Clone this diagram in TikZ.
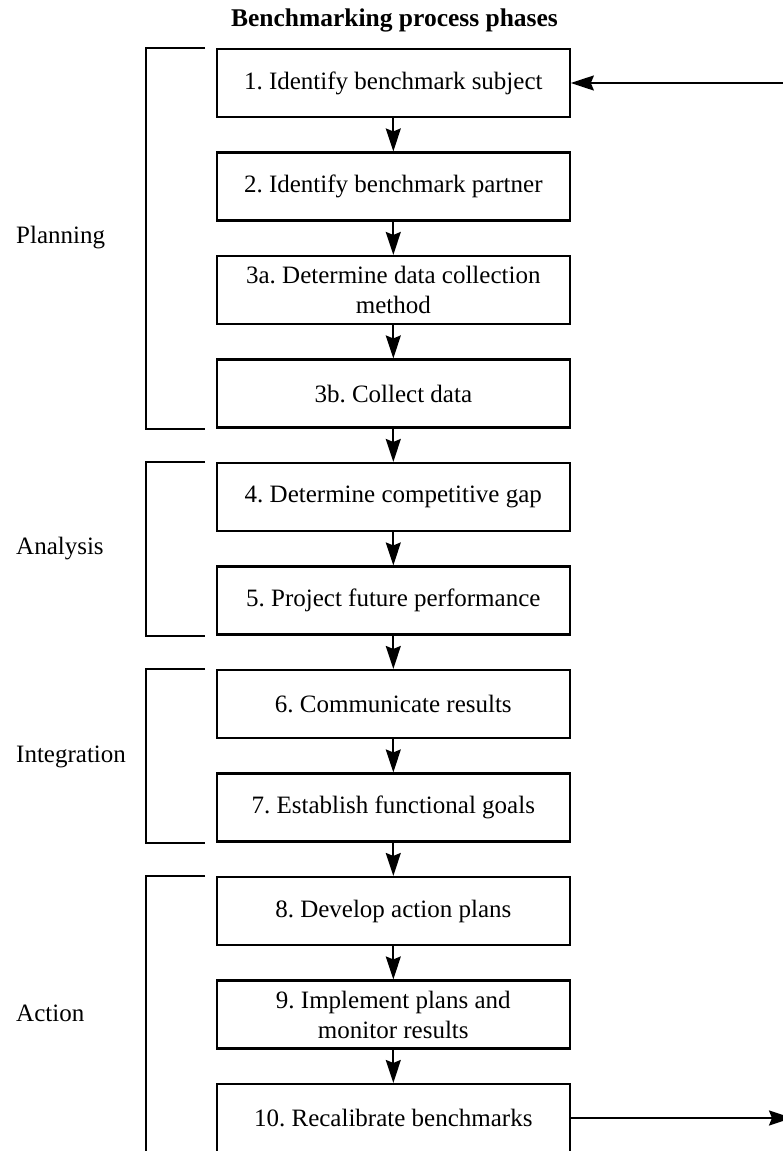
\documentclass[tikz,border=0pt]{standalone}
\usepackage{fontspec}
\setmainfont{Liberation Serif}
\usetikzlibrary{arrows.meta,calc}
\frenchspacing
\begin{document}
\begin{tikzpicture}[x=1pt,y=-1pt,
  box/.style={draw,line width=2.1pt,minimum width=353pt,minimum height=68pt,inner sep=0pt,align=center,font=\fontsize{25}{30}\selectfont},
  lbl/.style={anchor=base west,inner sep=0pt,font=\fontsize{25}{30}\selectfont},
  conn/.style={line width=2pt,-{Stealth[length=23pt,width=15pt,inset=3pt]}},
  brk/.style={line width=2pt}]
\useasboundingbox (0,0) rectangle (783,1151);
\clip (0,0) rectangle (783,1151);
\node[anchor=base,inner sep=0pt,font=\fontsize{25.5}{30}\selectfont\bfseries] (title) at (394.5,27) {Benchmarking process phases};
\node[box] (b1) at (393.3,83) {1. Identify benchmark subject};
\node[box] (b2) at (393.3,186.5) {2. Identify benchmark partner};
\node[box] (b3a) at (393.3,290) {3a. Determine data collection\\method};
\node[box] (b3b) at (393.3,393.5) {3b. Collect data};
\node[box] (b4) at (393.3,497) {4. Determine competitive gap};
\node[box] (b5) at (393.3,600.5) {5. Project future performance};
\node[box] (b6) at (393.3,704) {6. Communicate results};
\node[box] (b7) at (393.3,807.5) {7. Establish functional goals};
\node[box] (b8) at (393.3,911) {8. Develop action plans};
\node[box] (b9) at (393.3,1014.5) {9. Implement plans and\\monitor results};
\node[box] (b10) at (393.3,1118) {10. Recalibrate benchmarks};
\foreach \a/\b in {b1/b2,b2/b3a,b3a/b3b,b3b/b4,b4/b5,b5/b6,b6/b7,b7/b8,b8/b9,b9/b10}
  \draw[conn] (\a.south) -- (\b.north);
\coordinate (fbin) at (800,83);
\coordinate (fbout) at (792,1118);
\draw[conn] (fbin) -- (b1.east);
\draw[conn] (b10.east) -- (fbout);
% brackets
\draw[brk] ($(b1.north west)+(-10.7,0)$) -- ++(-59.5,0) |- ($(b3b.south west)+(-10.7,0)$);
\draw[brk] ($(b4.north west)+(-10.7,0)$) -- ++(-59.5,0) |- ($(b5.south west)+(-10.7,0)$);
\draw[brk] ($(b6.north west)+(-10.7,0)$) -- ++(-59.5,0) |- ($(b7.south west)+(-10.7,0)$);
\draw[brk] ($(b8.north west)+(-10.7,0)$) -- ++(-59.5,0) -- ++(0,320) coordinate (actend);
\node[lbl] (lplan) at (16,243) {Planning};
\node[lbl] (lana) at (16,554) {Analysis};
\node[lbl] (lint) at (16,762) {Integration};
\node[lbl] (lact) at (16,1021) {Action};
\end{tikzpicture}
\end{document}
